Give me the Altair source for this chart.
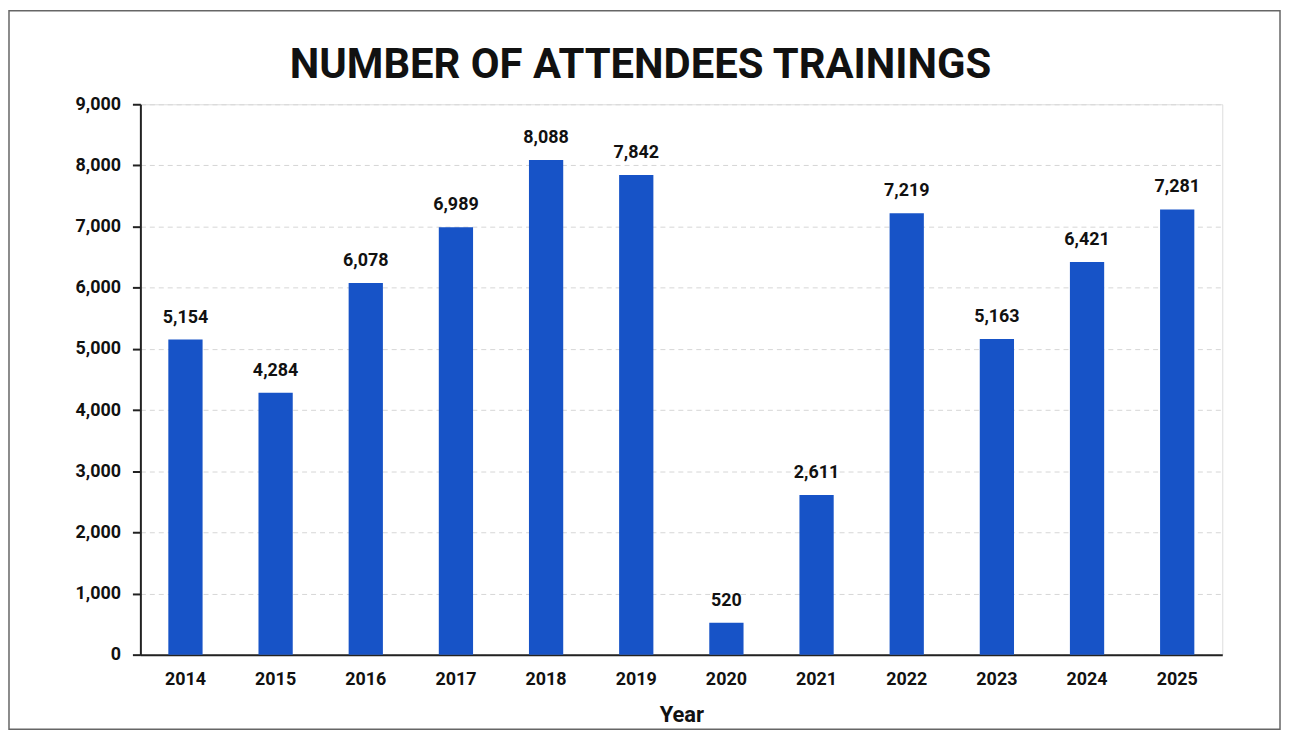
import altair as alt
import pandas as pd

years = ["2014", "2015", "2016", "2017", "2018", "2019", "2020", "2021", "2022", "2023", "2024", "2025"]
attendees = [5154, 4284, 6078, 6989, 8088, 7842, 520, 2611, 7219, 5163, 6421, 7281]
y_ticks = [0, 1000, 2000, 3000, 4000, 5000, 6000, 7000, 8000, 9000]
title_text = "NUMBER OF ATTENDEES TRAININGS"

df = pd.DataFrame({"Year": years, "Attendees": attendees})

FONT = "Roboto, sans-serif"
W, H = 1087, 553

base = alt.Chart(df)

bars = base.mark_bar(color="#1753C7").encode(
    x=alt.X("Year:N", sort=years, title="Year",
            scale=alt.Scale(paddingInner=0.62, paddingOuter=0.31),
            axis=alt.Axis(labelAngle=0, ticks=False, domainColor="#222", domainWidth=2,
                          labelFont=FONT, labelFontSize=18, labelFontWeight="bold", labelColor="#111",
                          labelPadding=16, titleFont=FONT, titleFontSize=22, titleFontWeight="bold",
                          titleColor="#111", titlePadding=16)),
    y=alt.Y("Attendees:Q", title=None,
            scale=alt.Scale(domain=[0, 9000], nice=False),
            axis=alt.Axis(values=y_ticks, labelExpr="format(datum.value, ',')", grid=True,
                          gridDash=[5, 4], gridColor="#d6d6d6", gridWidth=1,
                          domainColor="#222", domainWidth=2, tickColor="#222", tickWidth=2, tickSize=8,
                          labelFont=FONT, labelFontSize=18, labelFontWeight="bold", labelColor="#111",
                          labelPadding=12)),
)

labels = base.mark_text(dy=-13, baseline="bottom", font=FONT, fontSize=18, fontWeight="bold",
                        color="#111").encode(
    x=alt.X("Year:N", sort=years),
    y="Attendees:Q",
    text=alt.Text("Attendees:Q", format=","),
)

one = pd.DataFrame({"t": [title_text]})

border = alt.Chart(one).mark_rect(
    fill=None, stroke="#666", strokeWidth=1.5
).encode(
    x=alt.value(-132), x2=alt.value(W + 58),
    y=alt.value(-94), y2=alt.value(H + 75),
)

title = alt.Chart(one).mark_text(
    font=FONT, fontSize=42, fontWeight="bold", color="#111", baseline="alphabetic", align="center"
).encode(
    x=alt.value(W / 2 - 41), y=alt.value(-26), text="t:N",
)

chart = alt.layer(border, bars, labels, title).properties(
    width=W, height=H,
    padding={"left": 133, "top": 95, "right": 60, "bottom": 77},
    autosize=alt.AutoSizeParams(type="none"),
).configure_view(stroke=None).configure(background="white")

chart.save("out.html", embed_options={"renderer": "svg", "actions": False})
